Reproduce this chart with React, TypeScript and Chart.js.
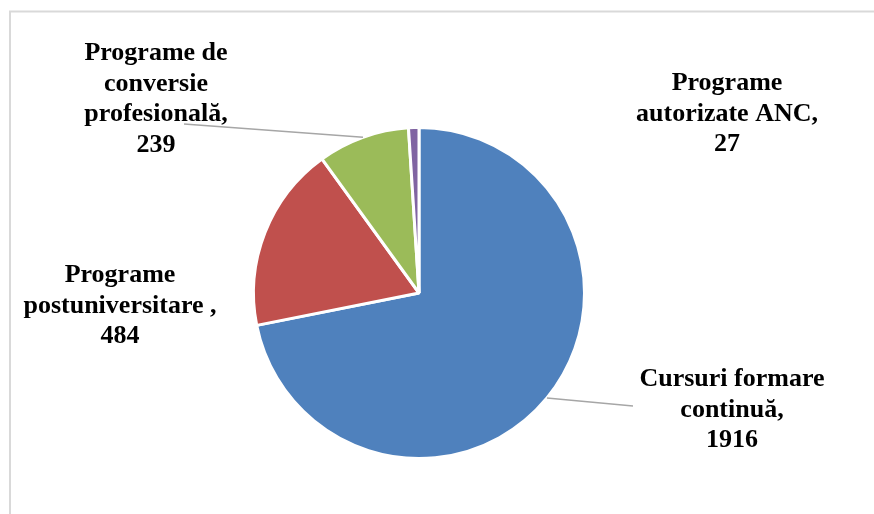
import React, { useEffect, useRef } from "react";
import { Chart, registerables } from "chart.js";

Chart.register(...registerables);

const categories = [
  "Cursuri formare continuă",
  "Programe postuniversitare ",
  "Programe de conversie profesională",
  "Programe autorizate ANC",
];
const values = [1916, 484, 239, 27];
const colors = ["#4F81BD", "#C0504D", "#9BBB59", "#8064A2"];

// How each category name wraps in its data label (the value goes on its own last line)
const labelLines = [
  ["Cursuri formare", "continuă,"],
  ["Programe", "postuniversitare ,"],
  ["Programe de", "conversie", "profesională,"],
  ["Programe", "autorizate ANC,"],
];

// label placement: center x, first baseline y, and optional leader-line end
const labelLayout = [
  { x: 732, y: 386, leader: { x: 633, y: 406 } },
  { x: 120, y: 282, leader: null },
  { x: 156, y: 60, leader: { x: 184, y: 124 } },
  { x: 727, y: 90, leader: null },
];

const FONT = "bold 26px 'Liberation Serif', 'Times New Roman', serif";
const LINE_H = 30.5;

const labelPlugin = {
  id: "pieLabels",
  beforeDraw(chart: any) {
    const ctx = chart.ctx;
    ctx.save();
    ctx.strokeStyle = "#D9D9D9";
    ctx.lineWidth = 2;
    ctx.beginPath();
    ctx.moveTo(10, 514);
    ctx.lineTo(10, 11.5);
    ctx.lineTo(874, 11.5);
    ctx.stroke();
    ctx.restore();
  },
  afterDraw(chart: any) {
    const ctx = chart.ctx;
    const meta = chart.getDatasetMeta(0);
    ctx.save();
    meta.data.forEach((arc: any, i: number) => {
      const lay = labelLayout[i];
      const p = arc.getProps(["x", "y", "startAngle", "endAngle", "outerRadius"], true);
      if (lay.leader) {
        const mid = (p.startAngle + p.endAngle) / 2;
        const sx = p.x + Math.cos(mid) * p.outerRadius;
        const sy = p.y + Math.sin(mid) * p.outerRadius;
        ctx.strokeStyle = "#A6A6A6";
        ctx.lineWidth = 1.5;
        ctx.beginPath();
        ctx.moveTo(sx, sy);
        ctx.lineTo(lay.leader.x, lay.leader.y);
        ctx.stroke();
      }
      const lines = [...labelLines[i], String(values[i])];
      ctx.fillStyle = "#000000";
      ctx.font = FONT;
      ctx.textAlign = "center";
      ctx.textBaseline = "alphabetic";
      lines.forEach((ln, k) => {
        ctx.fillText(ln, lay.x, lay.y + k * LINE_H);
      });
    });
    ctx.restore();
  },
};

export default function App() {
  const ref = useRef<HTMLCanvasElement | null>(null);
  useEffect(() => {
    if (!ref.current) return;
    const chart = new Chart(ref.current, {
      type: "pie",
      data: {
        labels: categories,
        datasets: [
          {
            data: values,
            backgroundColor: colors,
            borderColor: "#FFFFFF",
            borderWidth: 3,
          },
        ],
      },
      options: {
        animation: false,
        responsive: false,
        devicePixelRatio: 1,
        layout: { padding: { left: 252, right: 288, top: 126, bottom: 54 } },
        plugins: {
          legend: { display: false },
          tooltip: { enabled: false },
        },
      },
      plugins: [labelPlugin],
    });
    return () => chart.destroy();
  }, []);
  return (
    <div style={{ position: "absolute", left: 0, top: 0, width: 874, height: 514, background: "#fff" }}>
      <canvas ref={ref} width={874} height={514} style={{ display: "block" }} />
    </div>
  );
}
